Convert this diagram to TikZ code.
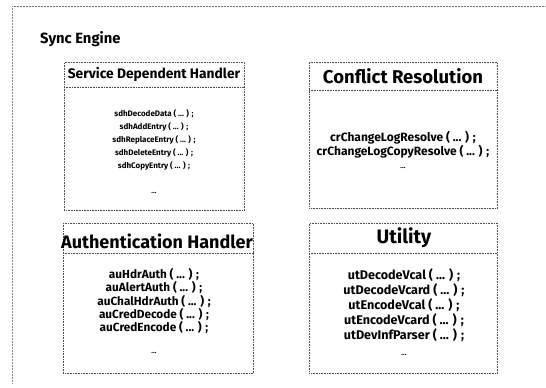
\documentclass[tikz,border=0pt]{standalone}
\usepackage{fontspec}
\setmainfont{Fira Sans}
\begin{document}
\begin{tikzpicture}[x=1pt,y=-1pt,
  frame/.style={draw=black!70, line width=0.6pt, densely dotted},
  box/.style={frame, rectangle, inner sep=0pt, anchor=north west},
  hdr/.style={anchor=center, inner sep=0pt},
  fn/.style={align=center, anchor=north, inner sep=0pt},
  dots/.style={font=\bfseries\fontsize{7}{8}\selectfont, anchor=center, inner sep=0pt}]
\useasboundingbox (0,0) rectangle (546,388);
% outer frame
\draw[draw=black!55, line width=0.5pt, densely dotted] (12,6) -- (546,6);
\draw[draw=black!45, line width=0.5pt, densely dotted] (12,6) -- (12,384);
\node[font=\bfseries\fontsize{14.8}{17}\selectfont, anchor=west, inner sep=0pt] (title) at (40,39) {Sync Engine};

% Service Dependent Handler
\node[box, minimum width=180, minimum height=148] (sdh) at (64,62) {};
\draw[frame] (sdh.north west |- 0,87) -- (sdh.north east |- 0,87);
\node[hdr, font=\bfseries\fontsize{13.8}{15}\selectfont] (sdht) at (154,74) {Service Dependent Handler};
\node[fn, font=\bfseries\fontsize{8}{13}\selectfont] (sdhf) at (154,109) {sdhDecodeData ( ... ) ;\\ sdhAddEntry ( ... ) ;\\ sdhReplaceEntry ( ... ) ;\\ sdhDeleteEntry ( ... ) ;\\ sdhCopyEntry ( ... ) ;};
\node[dots] (sdhd) at (154,193) {...};

% Conflict Resolution
\node[box, minimum width=188, minimum height=146] (cr) at (309,62) {};
\draw[frame] (cr.north west |- 0,90) -- (cr.north east |- 0,90);
\node[hdr, font=\bfseries\fontsize{18.5}{20}\selectfont] (crt) at (403,76) {Conflict Resolution};
\node[fn, font=\bfseries\fontsize{12}{14}\selectfont] (crf) at (403,131) {crChangeLogResolve ( ... ) ;\\ crChangeLogCopyResolve ( ... ) ;};
\node[dots] (crd) at (403,168) {...};

% Authentication Handler
\node[box, minimum width=190, minimum height=150] (ah) at (63,223) {};
\draw[frame] (ah.north west |- 0,253) -- (ah.north east |- 0,253);
\node[hdr, font=\bfseries\fontsize{18}{20}\selectfont] (aht) at (157,241) {Authentication Handler};
\node[fn, font=\bfseries\fontsize{11.8}{13.4}\selectfont] (ahf) at (154,268) {auHdrAuth ( ... ) ;\\ auAlertAuth ( ... ) ;\\ auChalHdrAuth ( ... ) ;\\ auCredDecode ( ... ) ;\\ auCredEncode ( ... ) ;};
\node[dots] (ahd) at (154,353) {...};

% Utility
\node[box, minimum width=188, minimum height=150] (ut) at (309,223) {};
\draw[frame] (ut.north west |- 0,253) -- (ut.north east |- 0,253);
\node[hdr, font=\bfseries\fontsize{19.5}{21}\selectfont] (utt) at (404,238) {Utility};
\node[fn, font=\bfseries\fontsize{12.6}{15}\selectfont] (utf) at (404,268) {utDecodeVcal ( ... ) ;\\ utDecodeVcard ( ... ) ;\\ utEncodeVcal ( ... ) ;\\ utEncodeVcard ( ... ) ;\\ utDevInfParser ( ... ) ;};
\node[dots] (utd) at (404,355) {...};
\end{tikzpicture}
\end{document}
